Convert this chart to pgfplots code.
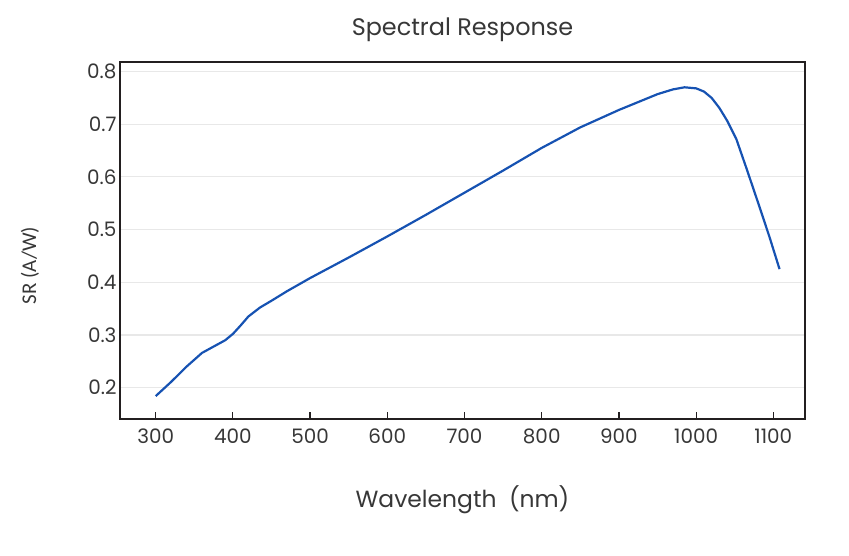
\documentclass[border=0pt]{standalone}
\usepackage{pgfplots}
\pgfplotsset{compat=1.18}
\usepackage{fontspec}
\setmainfont{Poppins}
\newfontfamily\calib{Carlito}
\definecolor{curve}{RGB}{22,82,178}
\definecolor{frame}{RGB}{35,31,32}
\definecolor{gridc}{RGB}{232,232,232}
\definecolor{txt}{RGB}{55,55,55}
\begin{document}
\begin{tikzpicture}
\begin{axis}[
  at={(0,0)}, anchor=south west,
  scale only axis, width=685bp, height=357bp,
  xmin=253.8, xmax=1141, ymin=0.1406, ymax=0.818,
  xtick={300,400,...,1100}, ytick={0.2,0.3,...,0.8},
  yticklabels={0.2,0.3,0.4,0.5,0.6,0.7,0.8},
  xtick pos=bottom, xtick align=inside, major tick length=7bp,
  ytick style={draw=none},
  tick style={line width=1.2pt, frame},
  axis line style={line width=1.6pt, frame},
  ymajorgrids, grid style={line width=1.2pt, gridc},
  /pgf/number format/assume math mode=true,
  /pgf/number format/1000 sep={},
  ticklabel style={font=\fontsize{20}{22}\selectfont, text=txt},
  xticklabel style={yshift=-6bp},
  yticklabel style={xshift=0bp},
  title={Spectral Response},
  title style={font=\fontsize{24}{26}\selectfont, text=txt, at={(rel axis cs:0.5,1)}, anchor=center, yshift=26bp},
  xlabel={Wavelength\ \ (nm)},
  xlabel style={font=\fontsize{23.5}{25}\selectfont, text=txt, at={(rel axis cs:0.5,0)}, anchor=center, yshift=-81bp},
  ylabel={\calib SR (A/W)},
  ylabel style={font=\fontsize{21}{23}\selectfont\calib, text=txt, at={(rel axis cs:0,0.43)}, anchor=center, yshift=90bp},
]
\addplot[curve, line width=2.2pt, line join=round] coordinates {
(300,0.184) (320,0.211) (340,0.240) (360,0.266) (375,0.278) (390,0.290)
(400,0.302) (410,0.318) (420,0.335) (435,0.352) (450,0.365) (470,0.383)
(500,0.408) (550,0.447) (600,0.487) (650,0.528) (700,0.570) (750,0.612)
(800,0.655) (850,0.694) (900,0.727) (950,0.757) (970,0.766) (985,0.770)
(1000,0.768) (1010,0.762) (1020,0.750) (1030,0.731) (1040,0.707) (1052,0.672)
(1065,0.617) (1080,0.552) (1095,0.486) (1108,0.425)
};
\end{axis}
\useasboundingbox (-120bp,-137bp) rectangle (729bp,419bp);
\end{tikzpicture}
\end{document}
